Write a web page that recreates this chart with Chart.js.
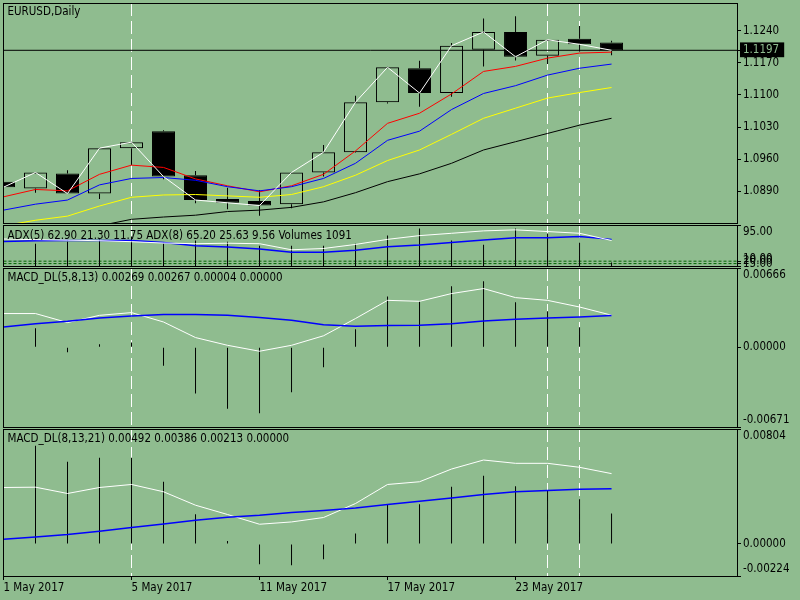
<!DOCTYPE html>
<html>
<head>
<meta charset="utf-8">
<script src="https://cdn.jsdelivr.net/npm/chart.js@4.4.1/dist/chart.umd.min.js"></script>
<style>
  html, body { margin: 0; padding: 0; background: #8fbc8f; }
  #wrap { position: relative; width: 800px; height: 600px; background: #8fbc8f; overflow: hidden; }
  #wrap canvas { position: absolute; left: 0; top: 0; }
</style>
</head>
<body>
<div id="wrap">
  <canvas id="main" width="800" height="600"></canvas>
  <canvas id="adx" width="800" height="600"></canvas>
  <canvas id="macd1" width="800" height="600"></canvas>
  <canvas id="macd2" width="800" height="600"></canvas>
</div>
<script>
// EURUSD daily, 1 - 26 May 2017
const dates = ['1 May 2017', '2 May 2017', '3 May 2017', '4 May 2017', '5 May 2017',
  '8 May 2017', '9 May 2017', '10 May 2017', '11 May 2017', '12 May 2017',
  '15 May 2017', '16 May 2017', '17 May 2017', '18 May 2017', '19 May 2017',
  '22 May 2017', '23 May 2017', '24 May 2017', '25 May 2017', '26 May 2017'];

const open  = [1.0911, 1.0896, 1.0929, 1.0885, 1.0984, 1.1021, 1.0925, 1.0873, 1.0869, 1.0862,
               1.0931, 1.0975, 1.1084, 1.1158, 1.1104, 1.1198, 1.1237, 1.1185, 1.1222, 1.1214];
const high  = [1.0918, 1.0932, 1.0936, 1.0985, 1.0998, 1.1023, 1.0934, 1.0898, 1.0893, 1.0932,
               1.0991, 1.1098, 1.1161, 1.1174, 1.1213, 1.1266, 1.1271, 1.1221, 1.1250, 1.1218];
const low   = [1.0894, 1.0887, 1.0884, 1.0873, 1.0947, 1.0916, 1.0864, 1.0851, 1.0837, 1.0853,
               1.0922, 1.0974, 1.1081, 1.1074, 1.1096, 1.1162, 1.1175, 1.1167, 1.1194, 1.1186];
const close = [1.0899, 1.0931, 1.0885, 1.0984, 1.0997, 1.0922, 1.0871, 1.0865, 1.0859, 1.0931,
               1.0975, 1.1084, 1.1160, 1.1104, 1.1207, 1.1237, 1.1183, 1.1220, 1.1210, 1.1197];

// moving averages
const maRed    = [1.0878, 1.0894, 1.0891, 1.0927, 1.0947, 1.0942, 1.0917, 1.0902, 1.0889, 1.0902,
                  1.0927, 1.0978, 1.1038, 1.1060, 1.1102, 1.1151, 1.1162, 1.1180, 1.1191, 1.1193];
const maBlue   = [1.0849, 1.0862, 1.0871, 1.0904, 1.0918, 1.0920, 1.0914, 1.0900, 1.0891, 1.0900,
                  1.0918, 1.0951, 1.1001, 1.1021, 1.1068, 1.1103, 1.1120, 1.1143, 1.1158, 1.1167];
const maYellow = [1.0815, 1.0827, 1.0836, 1.0858, 1.0877, 1.0882, 1.0883, 1.0880, 1.0877, 1.0883,
                  1.0900, 1.0925, 1.0957, 1.0980, 1.1014, 1.1049, 1.1071, 1.1093, 1.1105, 1.1116];
const maBlack  = [1.0798, 1.0803, 1.0808, 1.0815, 1.0829, 1.0834, 1.0838, 1.0846, 1.0849, 1.0855,
                  1.0867, 1.0887, 1.0911, 1.0928, 1.0951, 1.0980, 1.0998, 1.1016, 1.1034, 1.1049];
const priceTicks = [1.0890, 1.0960, 1.1030, 1.1100, 1.1170, 1.1240];

// ADX(5), ADX(8) main lines and tick volumes
const adx5    = [66.0, 64.6, 63.5, 62.5, 60.4, 57.6, 56.2, 57.2, 56.2, 43.6,
                 46.3, 54.7, 65.2, 73.0, 77.8, 82.8, 84.9, 81.4, 77.8, 62.9];
const adx8    = [61.0, 62.5, 63.1, 63.1, 63.1, 58.9, 52.0, 49.2, 45.0, 38.7,
                 38.7, 42.5, 49.9, 53.4, 58.9, 63.9, 68.8, 68.8, 70.9, 65.2];
const volumes = [7000, 6860, 7490, 8110, 9050, 6860, 7800, 7490, 6240, 6240,
                 6240, 6860, 9360, 11540, 7800, 6550, 11540, 9980, 7180, 1091];
const adxLevels = [20, 15];
const adxTicks  = [95, 20, 15, 10];

// MACD_DL(5,8,13)
const m1Main   = [0.00283, 0.00283, 0.00207, 0.00268, 0.00291, 0.00212, 0.00081, 0.00016, -0.00034, 0.00016,
                  0.00096, 0.00241, 0.00394, 0.00386, 0.00451, 0.00493, 0.00417, 0.00394, 0.00338, 0.00269];
const m1Signal = [0.00170, 0.00198, 0.00218, 0.00246, 0.00262, 0.00274, 0.00274, 0.00268, 0.00249, 0.00226,
                  0.00188, 0.00176, 0.00182, 0.00184, 0.00198, 0.00220, 0.00235, 0.00246, 0.00254, 0.00267];
const m1Hist   = [0.00220, 0.00160, -0.00042, 0.00025, 0.00040, -0.00157, -0.00390, -0.00517, -0.00555, -0.00378,
                  -0.00168, 0.00151, 0.00426, 0.00384, 0.00513, 0.00555, 0.00378, 0.00303, 0.00168, 0.00004];
const m1Ticks  = [-0.00671, 0, 0.00666];

// MACD_DL(8,13,21)
const m2Main   = [0.00395, 0.00397, 0.00353, 0.00395, 0.00416, 0.00365, 0.00271, 0.00206, 0.00138, 0.00154,
                  0.00185, 0.00283, 0.00416, 0.00435, 0.00524, 0.00587, 0.00564, 0.00564, 0.00536, 0.00492];
const m2Signal = [0.00033, 0.00049, 0.00066, 0.00089, 0.00115, 0.00140, 0.00166, 0.00187, 0.00201, 0.00220,
                  0.00234, 0.00252, 0.00276, 0.00299, 0.00322, 0.00346, 0.00365, 0.00374, 0.00383, 0.00386];
const m2Hist   = [0.00720, 0.00687, 0.00575, 0.00603, 0.00603, 0.00435, 0.00208, 0.00021, -0.00142, -0.00149,
                  -0.00107, 0.00073, 0.00276, 0.00278, 0.00400, 0.00477, 0.00404, 0.00374, 0.00313, 0.00213];
const m2Ticks  = [-0.00224, 0, 0.00804];

const dateTicks  = [0, 4, 8, 12, 16];
const markerBars = [4, 17, 18];
const lastClose  = close[close.length - 1];

const BG = '#8fbc8f';
const FONT = '"DejaVu Sans Condensed", "Liberation Sans Narrow", "Liberation Sans", sans-serif';
const xMin = 0, xMax = 22.92;

Chart.defaults.font.family = FONT;
Chart.defaults.font.size = 11.5;
Chart.defaults.color = '#000';

const pts = arr => arr.map((v, i) => ({x: i, y: v}));
const flat = v => [{x: xMin, y: v}, {x: xMax, y: v}];

function line(arr, color, width, axis) {
  return {type: 'line', data: pts(arr), borderColor: color, borderWidth: width || 1,
    pointRadius: 0, tension: 0, fill: false, yAxisID: axis || 'y', order: 1};
}
function sticks(data, axis) {
  return {type: 'bar', data, backgroundColor: '#000', borderWidth: 0, barThickness: 1,
    grouped: false, inflateAmount: 0, yAxisID: axis || 'y', order: 3};
}

// MT4-like panel: dashed vertical markers behind the data, frame and caption on top
const mtPanel = {
  id: 'mtPanel',
  beforeDatasetsDraw(chart) {
    const {ctx, chartArea: a} = chart;
    const x = chart.scales.x;
    ctx.save();
    ctx.beginPath();
    ctx.rect(a.left, a.top, a.right - a.left, a.bottom - a.top);
    ctx.clip();
    ctx.strokeStyle = '#ffffff';
    ctx.lineWidth = 1;
    ctx.setLineDash([13, 5]);
    markerBars.forEach(i => {
      const px = Math.floor(x.getPixelForValue(i)) + 0.5;
      ctx.beginPath();
      ctx.moveTo(px, a.top);
      ctx.lineTo(px, a.bottom);
      ctx.stroke();
    });
    ctx.restore();
  },
  afterDraw(chart, args, opts) {
    const {ctx, chartArea: a} = chart;
    ctx.save();
    ctx.strokeStyle = '#000';
    ctx.lineWidth = 1;
    const l = Math.floor(a.left) + 0.5, r = Math.floor(a.right) + 0.5;
    const t = Math.floor(a.top) + 0.5, b = Math.floor(a.bottom) + 0.5;
    ctx.strokeRect(l, t, r - l, b - t);
    ctx.fillStyle = '#000';
    ctx.font = '11.5px ' + FONT;
    ctx.textBaseline = 'middle';
    ctx.textAlign = 'left';
    ctx.fillText(opts.caption, a.left + 4, a.top + opts.dy);
    ctx.restore();
  }
};

function rightAxis(min, max, tickValues, fmt) {
  return {
    position: 'right', min, max,
    afterBuildTicks: s => { s.ticks = tickValues.map(v => ({value: v})); },
    afterFit: s => { s.width = 60; s.paddingTop = 0; s.paddingBottom = 0; },
    grid: {drawOnChartArea: false, drawTicks: true, tickLength: 4, color: '#000'},
    border: {display: false},
    ticks: {autoSkip: false, padding: 2, color: '#000', callback: fmt}
  };
}

const hiddenX = {type: 'linear', display: false, min: xMin, max: xMax, offset: false};

function baseOptions(padding, caption, dy, scales) {
  return {
    responsive: false, animation: false, events: [], devicePixelRatio: 1,
    layout: {padding},
    plugins: {legend: {display: false}, tooltip: {enabled: false}, mtPanel: {caption, dy}},
    scales
  };
}

// edge labels sit inside the panel, like the terminal draws them
const edgeLabel = (min, max, digits) => v => {
  const s = v.toFixed(digits);
  if (v === max) return ['', s];
  if (v === min) return [s, ''];
  return s;
};

// ---- price panel
const priceAxis = rightAxis(1.0821, 1.1300, priceTicks.concat([lastClose]), v => v.toFixed(4));
priceAxis.ticks.color = c => (c.tick && c.tick.value === lastClose) ? BG : '#000';
priceAxis.ticks.showLabelBackdrop = c => !!(c.tick && c.tick.value === lastClose);
priceAxis.ticks.backdropColor = '#000';
priceAxis.ticks.backdropPadding = {left: 3, right: 5, top: 1, bottom: 0};

new Chart(document.getElementById('main'), {
  type: 'bar',
  data: {datasets: [
    {type: 'line', data: flat(lastClose), borderColor: '#000', borderWidth: 1, pointRadius: 0, order: 6},
    {type: 'bar', data: dates.map((d, i) => ({x: i, y: [Math.max(open[i], close[i]), high[i]]})),
      backgroundColor: '#000', borderWidth: 0, barThickness: 1, grouped: false, inflateAmount: 0, order: 5},
    {type: 'bar', data: dates.map((d, i) => ({x: i, y: [low[i], Math.min(open[i], close[i])]})),
      backgroundColor: '#000', borderWidth: 0, barThickness: 1, grouped: false, inflateAmount: 0, order: 5},
    {type: 'bar', data: dates.map((d, i) => ({x: i, y: [open[i], close[i]]})),
      backgroundColor: dates.map((d, i) => close[i] < open[i] ? '#000' : 'rgba(0,0,0,0)'),
      borderColor: '#000', borderWidth: 1, borderSkipped: false, barThickness: 23,
      grouped: false, inflateAmount: 0, order: 4},
    line(maBlack, '#000000'),
    line(maYellow, '#ffff00'),
    line(maBlue, '#0000ff'),
    line(maRed, '#ff0000'),
    Object.assign(line(close, '#ffffff'), {order: 0})
  ]},
  options: baseOptions({left: 3.5, right: 3, top: 3, bottom: 377}, 'EURUSD,Daily', 9,
    {x: hiddenX, y: priceAxis}),
  plugins: [mtPanel]
});

// ---- ADX + volumes panel
new Chart(document.getElementById('adx'), {
  type: 'bar',
  data: {datasets: [
    sticks(pts(volumes), 'vol'),
    ...adxLevels.map(v => ({type: 'line', data: flat(v), borderColor: '#006400', borderWidth: 1,
      borderDash: [3, 2], pointRadius: 0, order: 4})),
    line(adx5, '#ffffff'),
    line(adx8, '#0000ff', 1.5)
  ]},
  options: baseOptions({left: 3.5, right: 3, top: 225, bottom: 334},
    'ADX(5) 62.90 21.30 11.75 ADX(8) 65.20 25.63 9.56 Volumes 1091', 11, {
      x: hiddenX,
      y: rightAxis(10, 95, adxTicks, edgeLabel(10, 95, 2)),
      vol: {display: false, min: 0, max: 12600}
    }),
  plugins: [mtPanel]
});

// ---- MACD_DL(5,8,13)
new Chart(document.getElementById('macd1'), {
  type: 'bar',
  data: {datasets: [
    sticks(pts(m1Hist)),
    line(m1Signal, '#0000ff', 1.5),
    line(m1Main, '#ffffff')
  ]},
  options: baseOptions({left: 3.5, right: 3, top: 268, bottom: 173},
    'MACD_DL(5,8,13) 0.00269 0.00267 0.00004 0.00000', 10.5, {
      x: hiddenX,
      y: rightAxis(m1Ticks[0], m1Ticks[2], m1Ticks, edgeLabel(m1Ticks[0], m1Ticks[2], 5))
    }),
  plugins: [mtPanel]
});

// ---- MACD_DL(8,13,21) with the date axis
new Chart(document.getElementById('macd2'), {
  type: 'bar',
  data: {datasets: [
    sticks(pts(m2Hist)),
    line(m2Signal, '#0000ff', 1.5),
    line(m2Main, '#ffffff')
  ]},
  options: baseOptions({left: 3.5, right: 3, top: 429, bottom: 0},
    'MACD_DL(8,13,21) 0.00492 0.00386 0.00213 0.00000', 10.5, {
      x: {
        type: 'linear', min: xMin, max: xMax, offset: false,
        afterBuildTicks: s => { s.ticks = dateTicks.map(i => ({value: i})); },
        afterFit: s => { s.height = 24; s.paddingLeft = 0; s.paddingRight = 0; },
        grid: {offset: false, drawOnChartArea: false, drawTicks: true, tickLength: 4, color: '#000'},
        border: {display: false},
        ticks: {align: 'start', autoSkip: false, maxRotation: 0, padding: 1, color: '#000',
          callback: v => dates[v]}
      },
      y: rightAxis(m2Ticks[0], m2Ticks[2], m2Ticks, edgeLabel(m2Ticks[0], m2Ticks[2], 5))
    }),
  plugins: [mtPanel]
});
</script>
</body>
</html>
